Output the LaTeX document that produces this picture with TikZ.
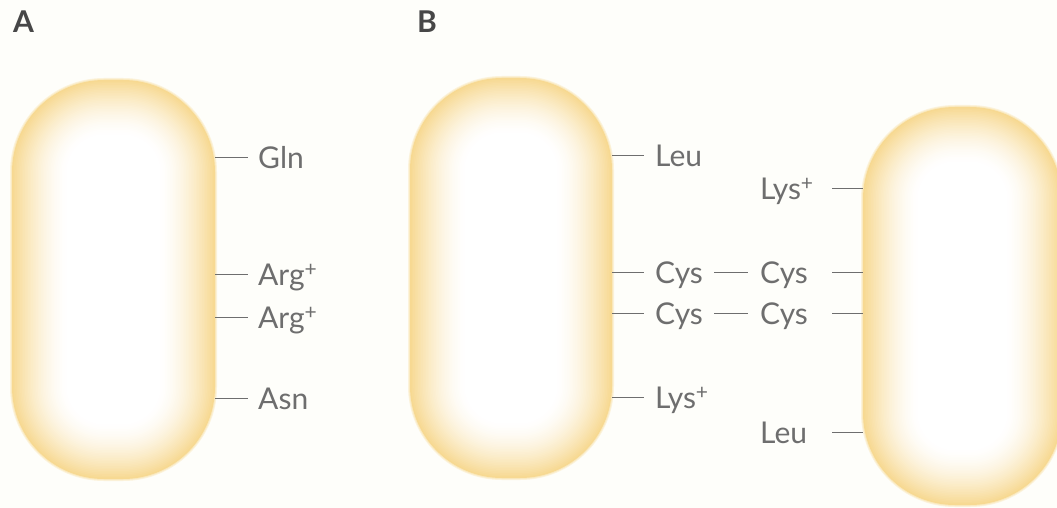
\documentclass[tikz,border=0pt]{standalone}
\usepackage{fontspec}
\setmainfont{Lato}
\definecolor{cellc}{RGB}{247,217,146}
\definecolor{labc}{RGB}{110,110,110}
\definecolor{bgc}{RGB}{254,254,250}
\tikzset{
  lab/.style={anchor=west, inner sep=0pt, text height=23pt, text depth=0pt,
    font=\fontsize{30}{33}\selectfont, text=labc},
  tickline/.style={draw=labc, line width=1pt},
  panel/.style={anchor=north west, inner sep=0pt,
    font=\fontsize{30}{34}\selectfont\bfseries, text=black!72}
}
\newcommand\cellbody[4]{%
  \foreach \j in {2,1}{%
    \pgfmathsetmacro\pc{80-\j*25}%
    \fill[cellc!\pc!bgc, rounded corners=92pt+\j pt]
      (#1-\j,#2-\j) rectangle (#3+\j,#4+\j);
  }%
  \foreach \i in {0,...,34}{%
    \pgfmathsetmacro\ins{\i*1.6}%
    \pgfmathsetmacro\pc{100*(1-\i/35)^1.6}%
    \pgfmathsetmacro\rr{92-\ins}%
    \fill[cellc!\pc!white, rounded corners=\rr pt]
      (#1+\ins,#2+\ins) rectangle (#3-\ins,#4-\ins);
  }%
}
\begin{document}
\begin{tikzpicture}[x=1pt,y=-1pt]
\fill[bgc] (0,0) rectangle (1057,508);
\useasboundingbox (0,0) rectangle (1057,508);

% cells
\cellbody{12}{80}{215}{479}
\cellbody{410}{78}{612}{478}
\cellbody{863}{107}{1062}{505}

% panel letters
\node[panel] (pA) at (13,11) {A};
\node[panel] (pB) at (417,11) {B};

% panel A labels
\coordinate (a1) at (215,157);
\coordinate (a2) at (215,274);
\coordinate (a3) at (215,317);
\coordinate (a4) at (215,398);
\node[lab] (gln)  at (258,157) {Gln};
\node[lab] (arg1) at (258,274) {Arg\textsuperscript{+}};
\node[lab] (arg2) at (258,317) {Arg\textsuperscript{+}};
\node[lab] (asn)  at (258,398) {Asn};
\foreach \c/\n in {a1/gln,a2/arg1,a3/arg2,a4/asn}
  \draw[tickline, shorten >=10pt] (\c) -- (\n.west);

% panel B left cell labels
\coordinate (b1) at (612,155);
\coordinate (b2) at (612,272);
\coordinate (b3) at (612,313);
\coordinate (b4) at (612,397);
\node[lab] (leu1) at (655,155) {Leu};
\node[lab] (cys1) at (655,272) {Cys};
\node[lab] (cys2) at (655,313) {Cys};
\node[lab] (lys1) at (655,397) {Lys\textsuperscript{+}};
\foreach \c/\n in {b1/leu1,b2/cys1,b3/cys2,b4/lys1}
  \draw[tickline, shorten >=11pt] (\c) -- (\n.west);

% panel B right cell labels
\node[lab] (lys2) at (760,188) {Lys\textsuperscript{+}};
\node[lab] (cys3) at (760,272) {Cys};
\node[lab] (cys4) at (760,313) {Cys};
\node[lab] (leu2) at (760,432) {Leu};
\foreach \y/\k in {188/1,272/2,313/3,432/4}{
  \coordinate (r\k) at (832,\y);
  \coordinate (e\k) at (863,\y);
  \draw[tickline] (r\k) -- (e\k);
}

% disulfide bonds
\draw[tickline, shorten <=11pt, shorten >=12pt] (cys1.east) -- (cys3.west);
\draw[tickline, shorten <=11pt, shorten >=12pt] (cys2.east) -- (cys4.west);
\end{tikzpicture}
\end{document}
